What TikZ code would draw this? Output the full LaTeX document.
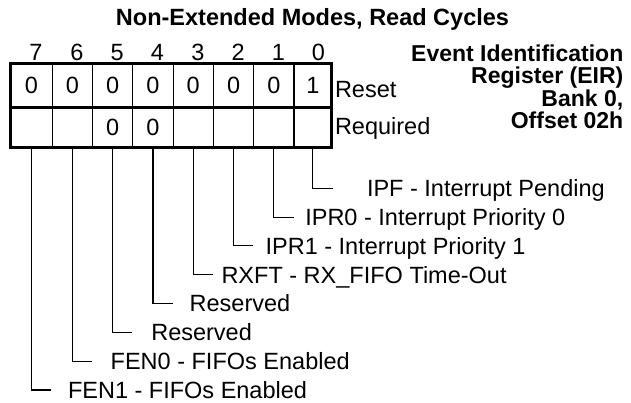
\documentclass[tikz,border=0pt]{standalone}
\usepackage{fontspec}
\setmainfont{Liberation Sans}
\begin{document}
\begin{tikzpicture}[x=1pt,y=-1pt,
  every node/.style={inner sep=0pt,outer sep=0pt},
  fnt/.style={font=\fontsize{23.5}{23.5}\selectfont},
  bfnt/.style={font=\fontsize{23.5}{23.5}\selectfont\bfseries},
  rfnt/.style={font=\fontsize{23}{23}\selectfont\bfseries},
  bitnum/.style={fnt,anchor=base},
  cella/.style={fnt,anchor=center,minimum width=40pt,minimum height=43pt},
  cellb/.style={fnt,anchor=center,minimum width=40pt,minimum height=40pt},
  lbl/.style={fnt,anchor=base west},
  outer/.style={line width=2.7pt},
  divider/.style={line width=1.2pt},
  lead/.style={line width=1.1pt}]
\useasboundingbox (0,0) rectangle (631,402);

% title
\node[bfnt,anchor=base] (title) at (312.5,25) {Non-Extended Modes, Read Cycles};

% right block
\node[rfnt,anchor=base east] (r1) at (623.3,61.3) {Event Identification};
\node[rfnt,anchor=base east] (r2) at (623.3,83.8) {Register (EIR)};
\node[rfnt,anchor=base east] (r3) at (623.3,106.3) {Bank 0,};
\node[rfnt,anchor=base east] (r4) at (623.3,128.9) {Offset 02h};

% bit numbers
\node[bitnum] (n7) at (36.0,60) {7};
\node[bitnum] (n6) at (76.9,60) {6};
\node[bitnum] (n5) at (117.2,60) {5};
\node[bitnum] (n4) at (157.5,60) {4};
\node[bitnum] (n3) at (197.8,60) {3};
\node[bitnum] (n2) at (238.1,60) {2};
\node[bitnum] (n1) at (278.3,60) {1};
\node[bitnum] (n0) at (318.3,60) {0};

% grid
\foreach \k in {0,...,6}
  \draw[divider] ({52.3+40.28*\k},63.7) -- ({52.3+40.28*\k},147.3);
\draw[outer] (10.7,63.7) rectangle (331.7,147.3);
\draw[outer] (10.7,107.3) -- (331.7,107.3);

% reset row
\node[cella] (a7) at (31.5,85.5) {0};
\node[cella] (a6) at (72.44,85.5) {0};
\node[cella] (a5) at (112.72,85.5) {0};
\node[cella] (a4) at (153.0,85.5) {0};
\node[cella] (a3) at (193.28,85.5) {0};
\node[cella] (a2) at (233.56,85.5) {0};
\node[cella] (a1) at (273.84,85.5) {0};
\node[cella] (a0) at (312.85,85.5) {1};

% required row
\node[cellb] (q7) at (31.5,127.3) {};
\node[cellb] (q6) at (72.44,127.3) {};
\node[cellb] (q5) at (112.72,127.3) {0};
\node[cellb] (q4) at (153.0,127.3) {0};
\node[cellb] (q3) at (193.28,127.3) {};
\node[cellb] (q2) at (233.56,127.3) {};
\node[cellb] (q1) at (273.84,127.3) {};
\node[cellb] (q0) at (312.85,127.3) {};

\node[lbl] (reset) at (335,97) {Reset};
\node[lbl] (required) at (335,134.5) {Required};

% leader end points
\coordinate (e0) at (332.6,188.3);
\coordinate (e1) at (293.5,217.1);
\coordinate (e2) at (253.3,245.9);
\coordinate (e3) at (213.0,274.7);
\coordinate (e4) at (172.7,303.5);
\coordinate (e5) at (132.4,332.3);
\coordinate (e6) at (92.1,361.1);
\coordinate (e7) at (51.2,390.0);

\foreach \b in {0,...,7}
  \draw[lead] (q\b.south) |- (e\b);

% labels
\node[lbl] (l0) at (367.0,196.65) {IPF - Interrupt Pending};
\node[lbl] (l1) at (305.3,225.45) {IPR0 - Interrupt Priority 0};
\node[lbl] (l2) at (265.6,254.25) {IPR1 - Interrupt Priority 1};
\node[lbl] (l3) at (221.5,283.05) {RXFT - RX\_FIFO Time-Out};
\node[lbl] (l4) at (189.7,311.85) {Reserved};
\node[lbl] (l5) at (151.3,340.65) {Reserved};
\node[lbl] (l6) at (110.7,369.45) {FEN0 - FIFOs Enabled};
\node[lbl] (l7) at (68.0,398.35) {FEN1 - FIFOs Enabled};
\end{tikzpicture}
\end{document}
